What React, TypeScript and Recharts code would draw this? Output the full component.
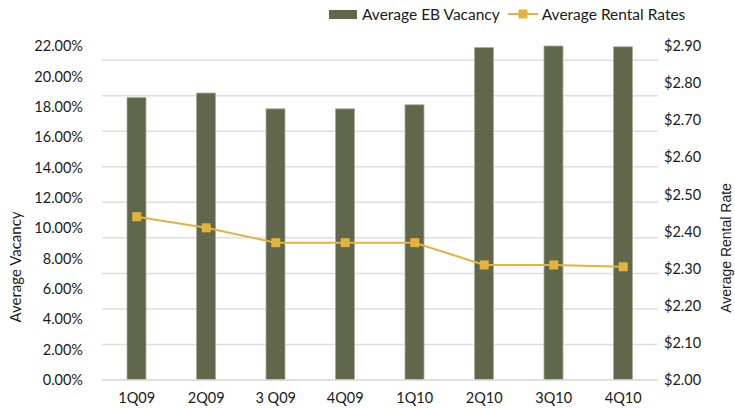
import React from 'react';
import { ComposedChart, Bar, Line, XAxis, YAxis, CartesianGrid } from 'recharts';

const quarters = ['1Q09', '2Q09', '3 Q09', '4Q09', '1Q10', '2Q10', '3Q10', '4Q10'];
const vacancy = [0.186, 0.189, 0.1786, 0.1786, 0.1813, 0.219, 0.22, 0.2195];
const rentalRates = [2.44, 2.41, 2.37, 2.37, 2.37, 2.31, 2.31, 2.305];
const vacancyTicks = [0, 0.02, 0.04, 0.06, 0.08, 0.1, 0.12, 0.14, 0.16, 0.18, 0.2, 0.22];
const rateTicks = [2.0, 2.1, 2.2, 2.3, 2.4, 2.5, 2.6, 2.7, 2.8, 2.9];
// the picture's gridlines follow their own spacing, not the tick labels
const gridSteps = [0, 1, 2, 3, 4, 5, 6, 7, 8, 9];
const gridMax = 9.4;

const OLIVE = '#61674a';
const GOLD = '#e2b33f';
const FONT = 'Lato, "Open Sans", sans-serif';

const SquareDot = (props: any) => {
  const { cx, cy, index } = props;
  if (cx == null || cy == null) return null;
  return <rect key={`dot-${index}`} x={cx - 4.5} y={cy - 4.5} width={9} height={9} fill={GOLD} />;
};

const AxisTitle = ({ x, y, text, family, size }: { x: number; y: number; text: string; family: string; size: number }) => (
  <text
    x={x}
    y={y}
    transform={`rotate(-90 ${x} ${y})`}
    textAnchor="middle"
    dominantBaseline="central"
    fontSize={size}
    fontFamily={family}
    fill="#1a1a1a"
  >
    {text}
  </text>
);

const gridRows = ({ offset }: any) =>
  gridSteps.map((s) => offset.top + offset.height * (1 - s / gridMax));

export default function App() {
  const data = quarters.map((q, i) => ({ quarter: q, vacancy: vacancy[i], rate: rentalRates[i] }));

  return (
    <div style={{ position: 'absolute', left: 0, top: 0, width: 735, height: 408, background: '#fff', fontFamily: FONT }}>
      {/* legend */}
      <div style={{ position: 'absolute', top: 5, left: 329, display: 'flex', alignItems: 'center', fontSize: 15.5, color: '#1a1a1a', whiteSpace: 'nowrap' }}>
        <span style={{ display: 'inline-block', width: 28, height: 9, background: OLIVE, marginRight: 5 }} />
        <span>Average EB Vacancy</span>
        <svg width={30} height={10} style={{ marginLeft: 8, marginRight: 4 }}>
          <line x1={0} y1={5} x2={30} y2={5} stroke={GOLD} strokeWidth={2} />
          <rect x={10.5} y={0.5} width={9} height={9} fill={GOLD} />
        </svg>
        <span>Average Rental Rates</span>
      </div>

      <ComposedChart width={735} height={408} data={data} margin={{ top: 46, right: 0, bottom: 0, left: 0 }}>
        <CartesianGrid
          yAxisId="left"
          vertical={false}
          stroke="#dedede"
          strokeWidth={1.5}
          horizontalCoordinatesGenerator={gridRows}
        />
        <XAxis
          dataKey="quarter"
          height={28}
          interval={0}
          tickLine={false}
          axisLine={{ stroke: '#dcdcdc', strokeWidth: 1.5 }}
          tick={{ fill: '#1a1a1a', fontSize: 14.5, fontFamily: FONT }}
          tickMargin={7}
        />
        <YAxis
          yAxisId="left"
          width={102}
          domain={[0, 0.22]}
          ticks={vacancyTicks}
          interval={0}
          axisLine={false}
          tickLine={false}
          tickMargin={13}
          tick={{ fill: '#1a1a1a', fontSize: 14.5, fontFamily: FONT }}
          tickFormatter={(v: number) => `${(v * 100).toFixed(2)}%`}
        />
        <YAxis
          yAxisId="right"
          orientation="right"
          width={77}
          domain={[2, 2.9]}
          ticks={rateTicks}
          interval={0}
          axisLine={false}
          tickLine={false}
          tickMargin={0}
          tick={{ fill: '#1a1a1a', fontSize: 14.5, fontFamily: FONT }}
          tickFormatter={(v: number) => `$${v.toFixed(2)}`}
        />
        <Bar
          yAxisId="left"
          dataKey="vacancy"
          barSize={19}
          fill={OLIVE}
          stroke="#a9ab9a"
          strokeWidth={0.8}
          isAnimationActive={false}
        />
        <Line
          yAxisId="right"
          dataKey="rate"
          type="linear"
          stroke={GOLD}
          strokeWidth={2}
          dot={<SquareDot />}
          activeDot={false}
          isAnimationActive={false}
        />
      </ComposedChart>

      <svg width={735} height={408} style={{ position: 'absolute', left: 0, top: 0, pointerEvents: 'none' }}>
        <AxisTitle x={15} y={267} text="Average Vacancy" family={FONT} size={15} />
        <AxisTitle x={726} y={248} text="Average Rental Rate" family={'"Liberation Sans", Arial, sans-serif'} size={14} />
      </svg>
    </div>
  );
}
